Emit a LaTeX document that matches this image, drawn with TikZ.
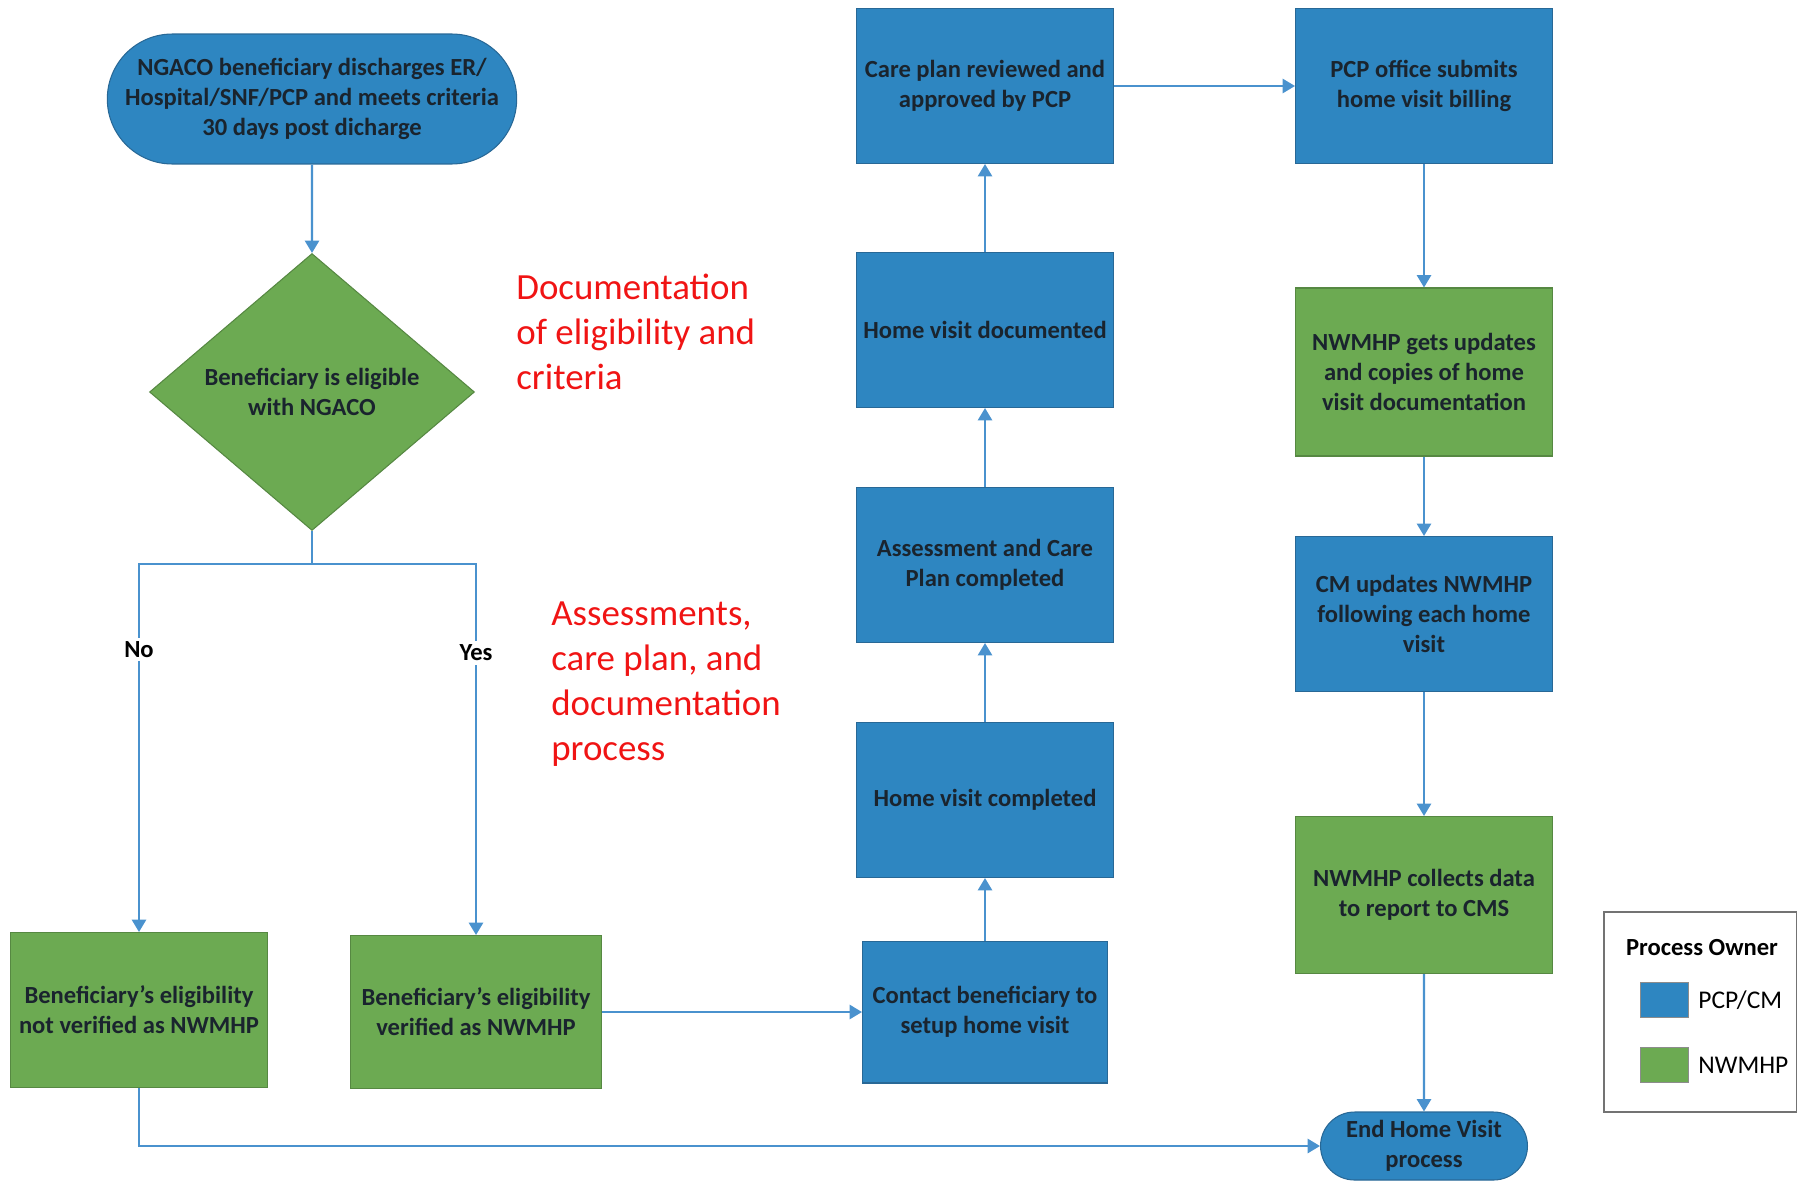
\documentclass[tikz,border=0pt]{standalone}
\usepackage{fontspec}
\setmainfont{Carlito}
\usetikzlibrary{positioning}
\usetikzlibrary{shapes.geometric}
\usetikzlibrary{shapes.misc}
\usetikzlibrary{arrows.meta}
\definecolor{pcpblue}{RGB}{46,134,193}
\definecolor{pcpedge}{RGB}{40,104,150}
\definecolor{nwgreen}{RGB}{108,170,82}
\definecolor{nwedge}{RGB}{86,136,66}
\definecolor{flowline}{RGB}{74,146,206}
\definecolor{boxtext}{RGB}{26,36,46}
\definecolor{notered}{RGB}{240,20,20}

\begin{document}
\begin{tikzpicture}
  [
    x=0.02cm, y=-0.02cm,
    font=\fontsize{14}{17}\selectfont\bfseries,
    procbox/.style={
      rectangle,
      draw,
      line width=0.6pt,
      inner sep=2pt,
      minimum width=5.14cm,minimum height=3.1cm,
      text=boxtext,
      align=center
    },
    pcp/.style={procbox,fill=pcpblue,draw=pcpedge},
    nw/.style={procbox,fill=nwgreen,draw=nwedge},
    terminal/.style={rounded rectangle,draw=pcpedge,line width=0.6pt,
      fill=pcpblue,text=boxtext,align=center,inner sep=2pt},
    decision/.style={diamond,draw=nwedge,line width=0.6pt,fill=nwgreen,
      text=boxtext,align=center,inner sep=0pt,aspect=1.17,
      minimum width=6.5cm,minimum height=5.54cm},
    flow/.style={draw=flowline,line width=1.3pt,-{Triangle[length=7pt,width=8pt]}},
    branch/.style={fill=white,inner sep=2pt},
    note/.style={font=\fontsize{21}{25.5}\selectfont,text=notered,align=left,
      inner sep=0pt,anchor=west},
    swatch/.style={rectangle,draw=black!45,line width=0.4pt,
      minimum width=0.96cm,minimum height=0.7cm,inner sep=0pt},
    key/.style={font=\fontsize{14.5}{17}\selectfont,anchor=west,inner sep=0pt},
  ]
  \useasboundingbox (0,0) rectangle (1797,1183);

  \node[terminal,minimum width=8.1cm,minimum height=2.6cm] (start) at (312,99)
    {NGACO beneficiary discharges ER/\\Hospital/SNF/PCP and meets criteria\\30 days post dicharge};
  \node[decision] (eligible) at (312,392) {Beneficiary is eligible\\with NGACO};
  \node[nw] (not-verified) at (139,1010) {Beneficiary's eligibility\\not verified as NWMHP};
  \node[nw,minimum width=5.02cm,minimum height=3.06cm] (verified) at (476,1012)
    {Beneficiary's eligibility\\verified as NWMHP};

  \node[pcp,minimum width=4.9cm,minimum height=2.84cm] (contact) at (985,1012)
    {Contact beneficiary to\\setup home visit};
  \node[pcp] (visit-done) at (985,800) {Home visit completed};
  \node[pcp] (assessment) at (985,565) {Assessment and Care\\Plan completed};
  \node[pcp] (visit-doc) at (985,330) {Home visit documented};
  \node[pcp] (care-plan) at (985,86) {Care plan reviewed and\\approved by PCP};

  \node[pcp] (billing) at (1424,86) {PCP office submits\\home visit billing};
  \node[nw,minimum height=3.36cm] (updates) at (1424,372)
    {NWMHP gets updates\\and copies of home\\visit documentation};
  \node[pcp] (cm-updates) at (1424,614) {CM updates NWMHP\\following each home\\visit};
  \node[nw,minimum height=3.14cm] (collects) at (1424,895) {NWMHP collects data\\to report to CMS};
  \node[terminal,minimum width=4.28cm,minimum height=1.36cm] (end) at (1424,1146)
    {End Home Visit\\process};

  \node[note] (note-eligibility) at (516,332) {Documentation\\of eligibility and\\criteria};
  \node[note] (note-assessment) at (551,684) {Assessments,\\care plan, and\\documentation\\process};

  \draw[flow] (start) -- (eligible);
  \draw[draw=flowline,line width=1.3pt] (eligible.south) -- ++(0,33) coordinate (split);
  \draw[flow] (split) -| node[branch,pos=0.616] {No} (not-verified);
  \draw[flow] (split) -| node[branch,pos=0.62] {Yes} (verified);
  \draw[flow] (not-verified) |- (end);
  \draw[flow] (verified) -- (contact);
  \draw[flow] (contact) -- (visit-done);
  \draw[flow] (visit-done) -- (assessment);
  \draw[flow] (assessment) -- (visit-doc);
  \draw[flow] (visit-doc) -- (care-plan);
  \draw[flow] (care-plan) -- (billing);
  \draw[flow] (billing) -- (updates);
  \draw[flow] (updates) -- (cm-updates);
  \draw[flow] (cm-updates) -- (collects);
  \draw[flow] (collects) -- (end);

  % legend
  \draw[black!55,line width=0.8pt] (1604,912) rectangle (1797,1112);
  \node (legend-title) at (1702,948) {Process Owner};
  \node[swatch,fill=pcpblue] (key-pcp) at (1664,1000) {};
  \node[swatch,fill=nwgreen] (key-nw) at (1664,1065) {};
  \node[key] at (1698,1000) {PCP/CM};
  \node[key] at (1698,1065) {NWMHP};
\end{tikzpicture}
\end{document}
